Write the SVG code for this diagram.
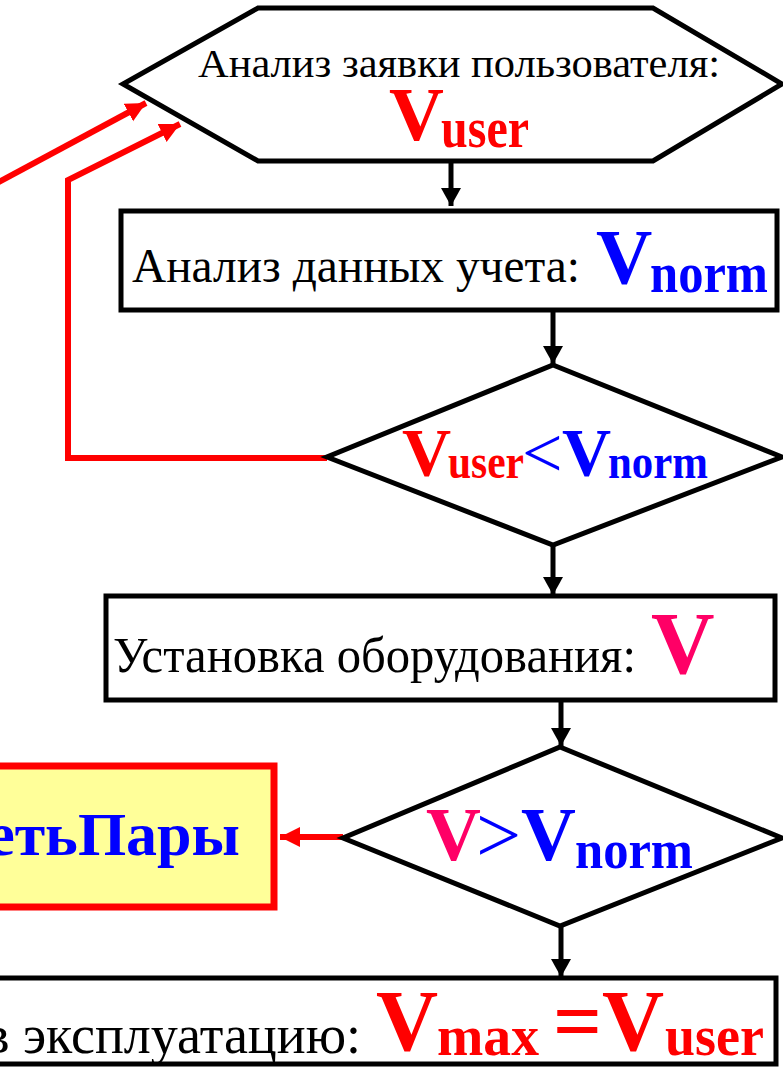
<svg xmlns="http://www.w3.org/2000/svg" width="783" height="1067" viewBox="0 0 783 1067">
<style>
.shape{fill:#fff;stroke:#000;stroke-width:5;stroke-linejoin:miter}
.t{font-family:"Liberation Serif","Times New Roman",serif;fill:#000}
.b{font-family:"Liberation Serif","Times New Roman",serif;font-weight:bold}
.n{font-family:"Liberation Serif","Times New Roman",serif;font-weight:normal}
.red{fill:#FF0000}
.blue{fill:#0000FF}
.mag{fill:#FF0066}
.blk{stroke:#000;stroke-width:5;fill:none}
.rl{stroke:#FF0000;stroke-width:6;fill:none}
</style>
<defs>
<marker id="ab" markerUnits="userSpaceOnUse" markerWidth="20" markerHeight="20" refX="18" refY="10" orient="auto">
<path d="M0,0 L18,10 L0,20 Z" fill="#000"/>
</marker>
<marker id="ar" markerUnits="userSpaceOnUse" markerWidth="22" markerHeight="22" refX="20" refY="11" orient="auto">
<path d="M0,1 L20,11 L0,21 Z" fill="#FF0000"/>
</marker>
</defs>
<rect width="783" height="1067" fill="#fff"/>
<g id="connectors">
<line class="blk" x1="451" y1="161" x2="451" y2="206" marker-end="url(#ab)"/>
<line class="blk" x1="553" y1="312" x2="553" y2="364" marker-end="url(#ab)"/>
<line class="blk" x1="553" y1="545" x2="553" y2="595" marker-end="url(#ab)"/>
<line class="blk" x1="561" y1="700" x2="561" y2="746" marker-end="url(#ab)"/>
<line class="blk" x1="561" y1="926" x2="561" y2="977" marker-end="url(#ab)"/>
<line class="rl" x1="-5" y1="184" x2="146" y2="103" marker-end="url(#ar)"/>
<polyline class="rl" points="327,458 68,458 68,180 180,124" marker-end="url(#ar)"/>
<line class="rl" x1="343" y1="837" x2="280" y2="837" marker-end="url(#ar)"/>
</g>
<g id="node-request">
<polygon class="shape" points="258,8 653,8 782,84 653,161 258,161 123,84"/>
<text class="t" x="198" y="77" font-size="40" textLength="522" lengthAdjust="spacingAndGlyphs">Анализ заявки пользователя:</text>
<text class="b red" x="389" y="140" font-size="76">V</text>
<text class="b red" x="441" y="147" font-size="57" textLength="88" lengthAdjust="spacingAndGlyphs">user</text>
</g>
<g id="node-records">
<rect class="shape" x="121" y="211" width="656" height="99"/>
<text class="t" x="132" y="282" font-size="48" textLength="448" lengthAdjust="spacingAndGlyphs">Анализ данных учета:</text>
<text class="b blue" x="596" y="283" font-size="78">V</text>
<text class="b blue" x="650" y="292" font-size="57" textLength="118" lengthAdjust="spacingAndGlyphs">norm</text>
</g>
<g id="node-decision1">
<polygon class="shape" points="553,365 782,457 553,545 327,457"/>
<text class="b red" x="402" y="475" font-size="68">V</text>
<text class="b red" x="448" y="478" font-size="48" textLength="76" lengthAdjust="spacingAndGlyphs">user</text>
<text class="n blue" x="522" y="477" font-size="72">&lt;</text>
<text class="b blue" x="562" y="475" font-size="68">V</text>
<text class="b blue" x="608" y="478" font-size="48" textLength="100" lengthAdjust="spacingAndGlyphs">norm</text>
</g>
<g id="node-install">
<rect class="shape" x="106" y="596" width="669" height="104"/>
<text class="t" x="113" y="672" font-size="50" textLength="523" lengthAdjust="spacingAndGlyphs">Установка оборудования:</text>
<text class="b mag" x="651" y="673" font-size="88">V</text>
</g>
<g id="node-decision2">
<polygon class="shape" points="560,747 782,838 560,926 343,838"/>
<text class="b mag" x="426" y="860" font-size="76">V</text>
<text class="n blue" x="476" y="862" font-size="80">&gt;</text>
<text class="b blue" x="521" y="860" font-size="76">V</text>
<text class="b blue" x="575" y="868" font-size="55" textLength="118" lengthAdjust="spacingAndGlyphs">norm</text>
</g>
<g id="node-alert">
<rect x="-20" y="766" width="294" height="141" fill="#FFFF99" stroke="#FF0000" stroke-width="7"/>
<text class="b blue" x="240" y="855" font-size="62" text-anchor="end">етьПары</text>
</g>
<g id="node-commission">
<rect class="shape" x="-10" y="978" width="786" height="86"/>
<text class="t" x="361" y="1053" font-size="54" text-anchor="end">в эксплуатацию:</text>
<text class="b red" x="376" y="1050" font-size="86">V</text>
<text class="b red" x="437" y="1055" font-size="58" textLength="102" lengthAdjust="spacingAndGlyphs">max</text>
<text class="b red" x="553" y="1050" font-size="86">=</text>
<text class="b red" x="602" y="1050" font-size="86">V</text>
<text class="b red" x="665" y="1055" font-size="58" textLength="99" lengthAdjust="spacingAndGlyphs">user</text>
</g>
</svg>
